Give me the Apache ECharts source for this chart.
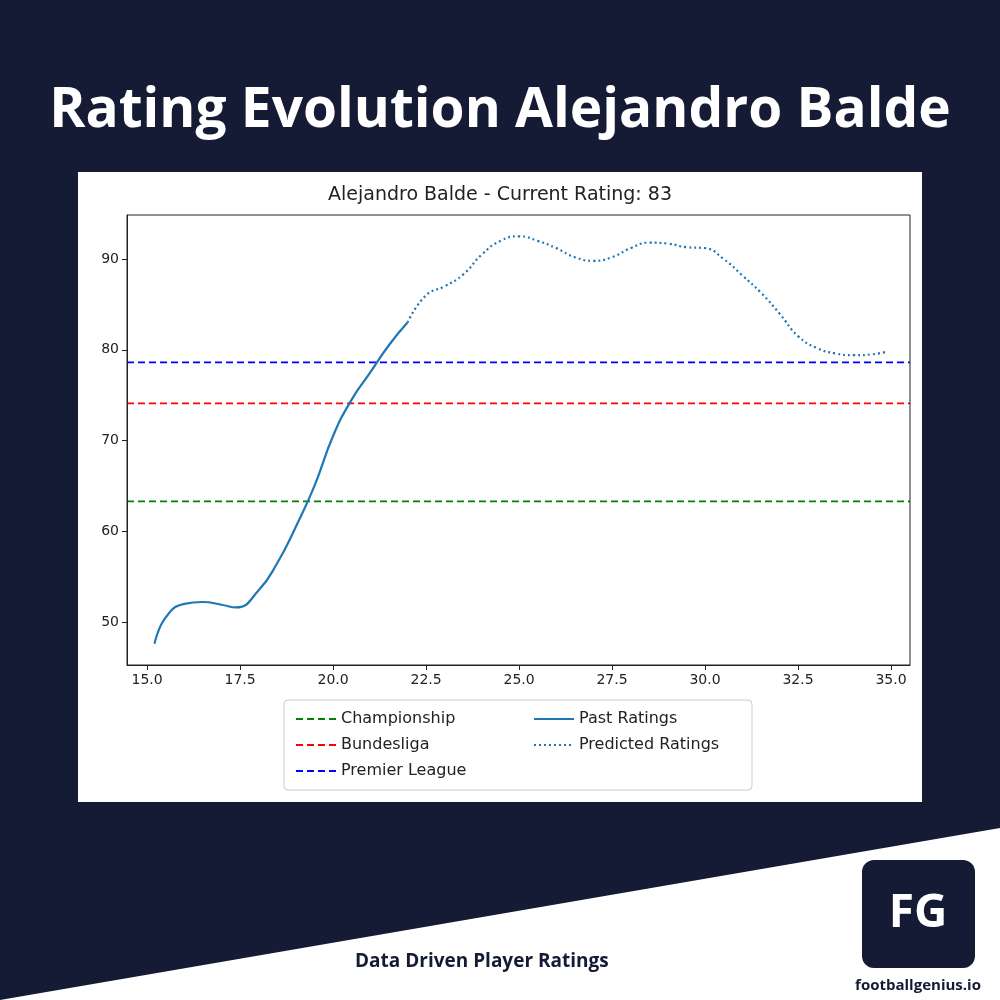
<!DOCTYPE html>
<html><head><meta charset="utf-8">
<script src="https://cdn.jsdelivr.net/npm/echarts@6/dist/echarts.min.js"></script>
<style>html,body{margin:0;padding:0;background:#151a35}#c{width:1000px;height:1000px}</style>
</head><body><div id="c"></div>
<script>
const pastAges=[15.2,15.5,16,16.5,17,17.4,18,18.5,19,19.5,20,20.5,21,21.5,22];
const pastVals=[47.6,50.5,52,52.2,51.9,51.6,53.5,56.5,60.5,65,70.5,74.5,77.5,80.5,83];
const predAges=[22,22.5,23,23.5,24,24.5,25,25.5,26,26.5,27,27.5,28,28.5,29,29.5,30,30.5,31,31.5,32,32.5,33,33.5,34,34.5,34.9];
const predVals=[83,86,87,88.3,90.5,92,92.5,92,91.2,90.2,89.8,90.2,91.2,91.8,91.7,91.3,91.2,90,88.2,86.3,84,81.5,80.2,79.6,79.4,79.5,79.8];
const leagues=['Championship','Bundesliga','Premier League'];
const leagueVals=[63.3,74.1,78.6];
const leagueColors=['#008000','#ff0000','#0000ff'];
const xMin=14.46,xMax=35.51;
const chart=echarts.init(document.getElementById('c'));
const font='DejaVu Sans';
const series=leagues.map((n,i)=>({name:n,type:'line',data:[[xMin,leagueVals[i]],[xMax,leagueVals[i]]],symbol:'none',lineStyle:{color:leagueColors[i],type:[7,4],width:1.8},itemStyle:{color:leagueColors[i]}}));
series.push({name:'Past Ratings',type:'line',smooth:true,symbol:'none',data:pastAges.map((a,i)=>[a,pastVals[i]]),lineStyle:{color:'#1f77b4',width:2.2},itemStyle:{color:'#1f77b4'}});
series.push({name:'Predicted Ratings',type:'line',smooth:true,symbol:'none',data:predAges.map((a,i)=>[a,predVals[i]]),lineStyle:{color:'#1f77b4',width:2.2,type:[2,3]},itemStyle:{color:'#1f77b4'}});
const legBase={orient:'vertical',itemGap:10,itemWidth:40,itemHeight:12,itemStyle:{opacity:0},textStyle:{fontFamily:font,fontSize:16,color:'#222'}};
chart.setOption({
 animation:false,
 graphic:[
  {type:'polygon',z:-10,shape:{points:[[0,1000],[1000,828],[1000,1000]]},style:{fill:'#ffffff'}},
  {type:'rect',z:-10,shape:{x:78,y:172,width:844,height:630},style:{fill:'#ffffff'}},
  {type:'rect',z:10,shape:{x:127,y:215,width:783,height:450},style:{fill:'none',stroke:'#222',lineWidth:1}},
  {type:'rect',z:-5,shape:{x:284,y:700,width:468,height:90,r:4},style:{fill:'#fff',stroke:'#ccc',lineWidth:1}},
  {type:'text',left:'center',top:84,style:{text:'Rating Evolution Alejandro Balde',fill:'#ffffff',font:'bold 55px "Open Sans"'}},
  {type:'text',left:'center',top:186,style:{text:'Alejandro Balde - Current Rating: 83',fill:'#222',font:'19px "DejaVu Sans"'}},
  {type:'text',left:355,top:952,style:{text:'Data Driven Player Ratings',fill:'#151a35',font:'bold 19px "Open Sans"'}},
  {type:'rect',shape:{x:862,y:860,width:113,height:108,r:12},style:{fill:'#151a35'}},
  {type:'text',x:918,y:914,style:{text:'FG',fill:'#fff',font:'bold 46px "Open Sans"',align:'center',verticalAlign:'middle'}},
  {type:'text',x:918,y:986,style:{text:'footballgenius.io',fill:'#151a35',font:'bold 15px "Open Sans"',align:'center',verticalAlign:'middle'}}
 ],
 grid:{left:127,top:215,width:783,height:450},
 xAxis:{type:'value',min:xMin,max:xMax,
  axisLabel:{customValues:[15,17.5,20,22.5,25,27.5,30,32.5,35],formatter:v=>v.toFixed(1),color:'#222',fontFamily:font,fontSize:14},
  axisTick:{customValues:[15,17.5,20,22.5,25,27.5,30,32.5,35],lineStyle:{color:'#222'}},
  splitLine:{show:false},axisLine:{onZero:false,lineStyle:{color:'#222'}}},
 yAxis:{type:'value',min:45.26,max:94.85,
  axisLabel:{customValues:[50,60,70,80,90],color:'#222',fontFamily:font,fontSize:14},
  axisTick:{show:true,customValues:[50,60,70,80,90],lineStyle:{color:'#222'}},
  splitLine:{show:false},axisLine:{show:true,lineStyle:{color:'#222'}}},
 legend:[
  Object.assign({left:290,top:706,data:['Championship','Bundesliga','Premier League']},legBase),
  Object.assign({left:528,top:706,data:['Past Ratings','Predicted Ratings']},legBase)
 ],
 series:series
});
</script></body></html>
